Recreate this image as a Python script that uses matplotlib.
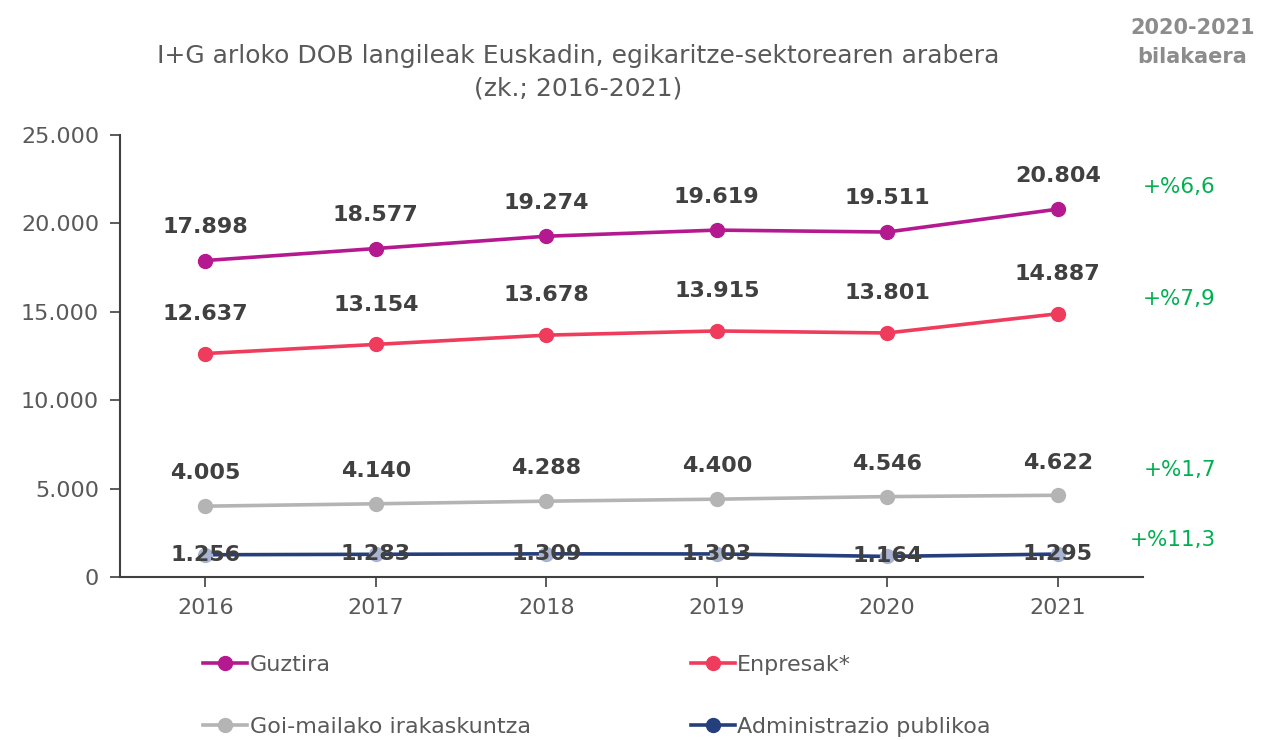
import matplotlib.pyplot as plt
from matplotlib.ticker import FuncFormatter
from matplotlib.transforms import blended_transform_factory

# Data
years = ['2016', '2017', '2018', '2019', '2020', '2021']
guztira = [17898, 18577, 19274, 19619, 19511, 20804]
enpresak = [12637, 13154, 13678, 13915, 13801, 14887]
goi_mailako = [4005, 4140, 4288, 4400, 4546, 4622]
administrazioa = [1256, 1283, 1309, 1303, 1164, 1295]
series_names = ['Guztira', 'Enpresak*', 'Goi-mailako irakaskuntza', 'Administrazio publikoa']
changes = ['+%6,6', '+%7,9', '+%1,7', '+%11,3']
change_y = [22050, 15700, 6050, 2100]

colors = ['#b5198f', '#ef3b5c', '#b4b4b4', '#253f7c']
marker_colors = ['#b5198f', '#ef3b5c', '#b4b4b4', '#a9b4d2']
label_offsets = [1900, 2250, 1850, 0]

def fmt_thousands(v):
    return f'{int(round(v)):,}'.replace(',', '.')

fig = plt.figure(figsize=(12.62, 7.4), dpi=100)
ax = fig.add_axes([0.0951, 0.2203, 0.8106, 0.5973])

x = list(range(len(years)))
all_series = [guztira, enpresak, goi_mailako, administrazioa]
handles = []
for vals, name, c, mc, off in zip(all_series, series_names, colors, marker_colors, label_offsets):
    ax.plot(x, vals, color=c, lw=2.6, zorder=2)
    ax.plot(x, vals, 'o', color=mc, ms=10, zorder=3)
    h, = ax.plot([], [], color=c, lw=2.6, marker='o', ms=10, label=name)
    handles.append(h)
    for xi, v in zip(x, vals):
        ax.text(xi, v + off, fmt_thousands(v), ha='center', va='center',
                fontsize=16, fontweight='bold', color='#404040', zorder=4)

ax.set_xlim(-0.5, 5.5)
ax.set_ylim(0, 25000)
ax.set_yticks(range(0, 25001, 5000))
ax.yaxis.set_major_formatter(FuncFormatter(lambda v, p: fmt_thousands(v)))
ax.set_xticks(x)
ax.set_xticklabels(years)
ax.tick_params(axis='both', labelsize=16, colors='#595959', length=7, width=1.2, pad=8)
ax.tick_params(axis='both', color='#404040')
for s in ['top', 'right']:
    ax.spines[s].set_visible(False)
for s in ['left', 'bottom']:
    ax.spines[s].set_color('#404040')
    ax.spines[s].set_linewidth(1.5)

# Title
fig.text(0.458, 0.925, 'I+G arloko DOB langileak Euskadin, egikaritze-sektorearen arabera',
         ha='center', va='center', fontsize=18, color='#595959')
fig.text(0.458, 0.880, '(zk.; 2016-2021)', ha='center', va='center', fontsize=18, color='#595959')

# Right-side annotation: 2020-2021 change
fig.text(0.945, 0.962, '2020-2021', ha='center', va='center', fontsize=15,
         fontweight='bold', color='#8c8c8c')
fig.text(0.945, 0.923, 'bilakaera', ha='center', va='center', fontsize=15,
         fontweight='bold', color='#8c8c8c')
trans = blended_transform_factory(fig.transFigure, ax.transData)
for txt, yv in zip(changes, change_y):
    ax.text(0.9635, yv, txt, transform=trans, ha='right', va='center',
            fontsize=15.5, color='#00b050', clip_on=False)

# legend fills column-major, so order handles for row-major reading
order = [0, 2, 1, 3]
leg = fig.legend(handles=[handles[i] for i in order], loc='upper left',
                 bbox_to_anchor=(0.145, 0.142), ncol=2, frameon=False, fontsize=16,
                 handlelength=2.0, handletextpad=0.1, columnspacing=7.2, labelspacing=1.9)
for t in leg.get_texts():
    t.set_color('#595959')

fig.savefig('out.png', dpi=100)
